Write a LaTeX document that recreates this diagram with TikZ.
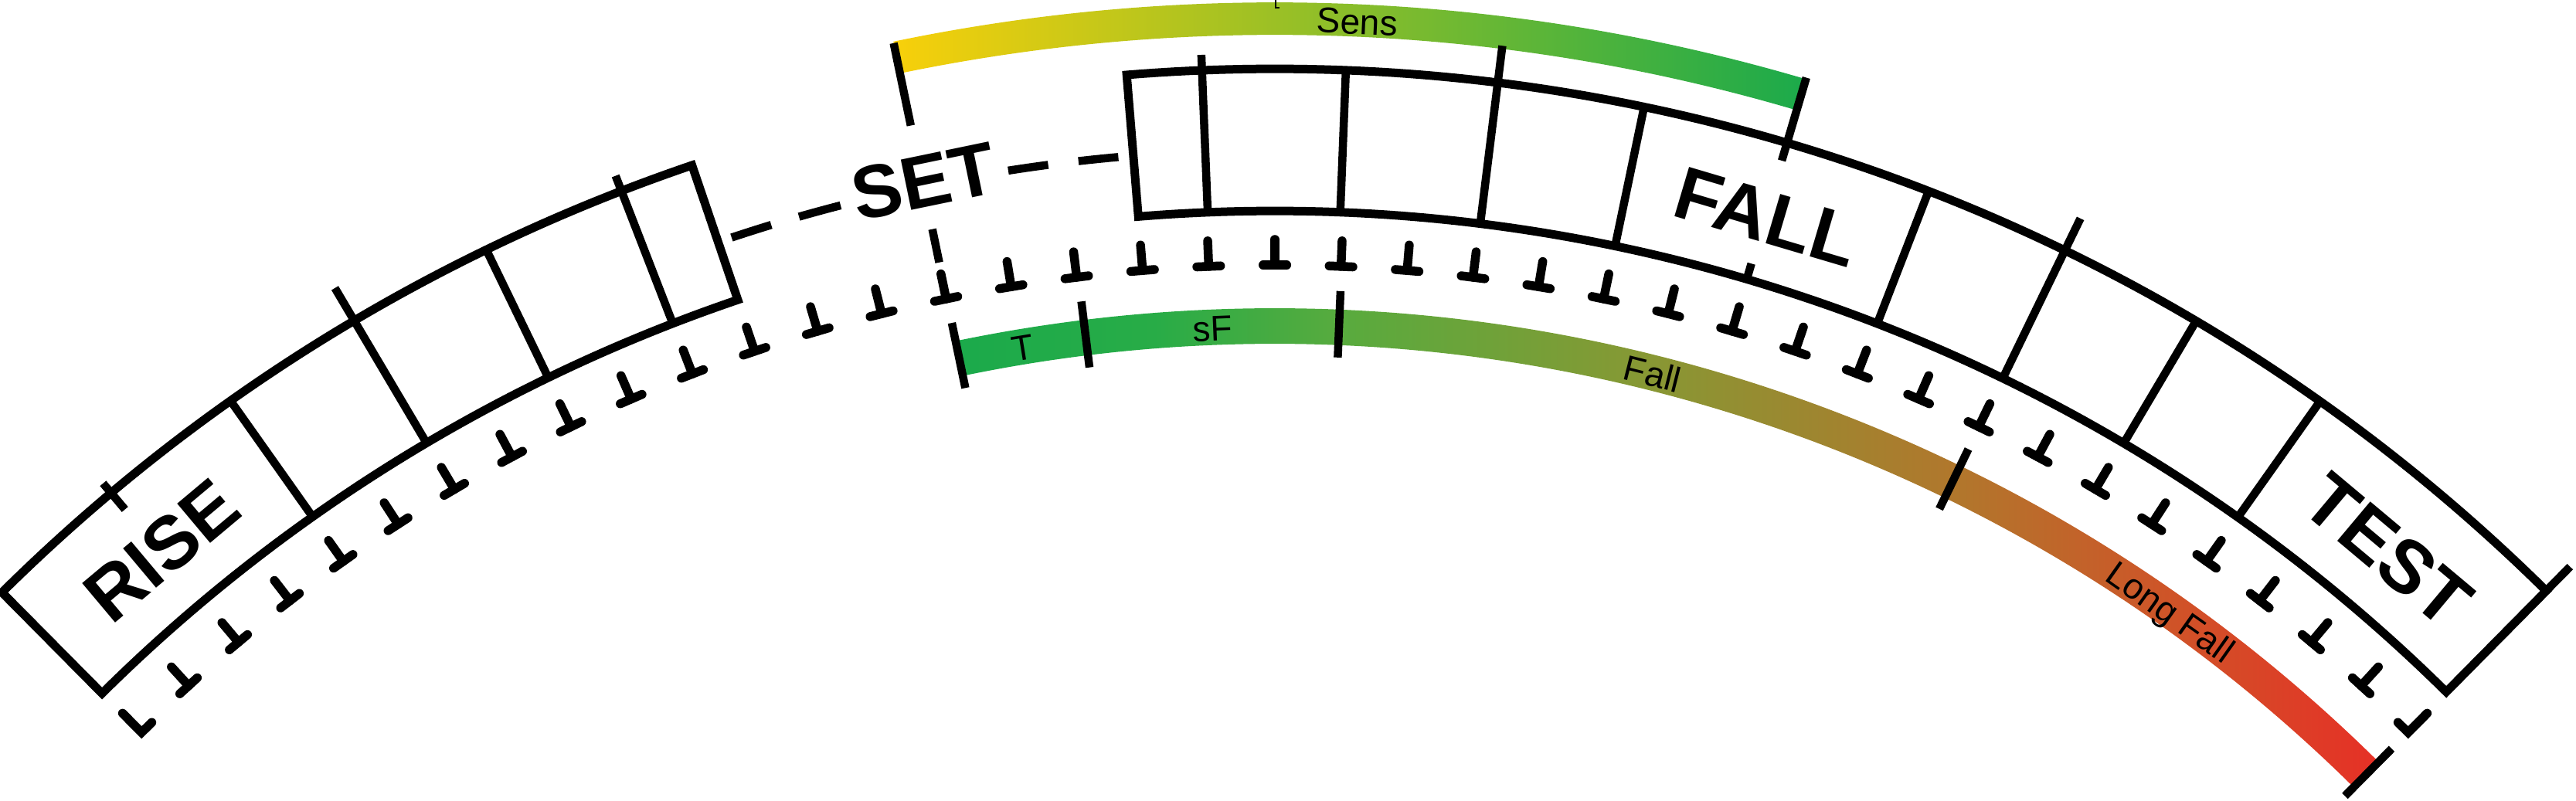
\documentclass[tikz,border=0pt]{standalone}
\usepackage{fontspec}
\setmainfont{Liberation Sans}
\usetikzlibrary{calc}
\definecolor{sensyellow}{RGB}{248,208,10}
\definecolor{barGreen}{RGB}{27,170,75}
\definecolor{barB}{RGB}{40,172,71}
\definecolor{barC}{RGB}{88,171,62}
\definecolor{barD}{RGB}{135,152,52}
\definecolor{barE}{RGB}{178,118,44}
\definecolor{barF}{RGB}{208,82,40}
\definecolor{barRed}{RGB}{230,48,38}
\pgfdeclarehorizontalshading{fallshade}{100bp}{%
  color(0bp)=(barGreen); color(25bp)=(barGreen); color(32bp)=(barB);
  color(38.5bp)=(barC); color(49.2bp)=(barD); color(60.4bp)=(barE);
  color(68bp)=(barF); color(75bp)=(barRed); color(100bp)=(barRed)}
\begin{document}
\begin{tikzpicture}[
  line/.style={line width=0.105cm},
  box/.style={line width=0.11cm, line join=miter},
  bartick/.style={line width=0.105cm},
  tmark/.style={line width=0.115cm, line cap=round, line join=miter},
  biglabel/.style={font=\fontsize{27.5pt}{29pt}\selectfont\bfseries, inner sep=0pt, text height=19.7pt, text depth=0pt},
  smalllabel/.style={font=\fontsize{13.1pt}{14pt}\selectfont, inner sep=0pt, text height=9.4pt, text depth=0pt},
]
\useasboundingbox (0,0) rectangle (33.34,10.36);
\begin{scope}[shift={(16.5,-13.94)}]
\def\Ro{23.41}
\def\Ri{21.57}
% ---- Sens bar (gradient)
\begin{scope}
\clip (101.74:24.27) arc[start angle=101.74, end angle=73.55, radius=24.27]
  -- (73.55:23.85) arc[start angle=73.55, end angle=101.74, radius=23.85] -- cycle;
\shade[left color=sensyellow, right color=barGreen] (-4.94,22.7) rectangle (6.87,24.4);
\end{scope}
% ---- lower bar (gradient)
\begin{scope}
\clip (101.74:20.31) arc[start angle=101.74, end angle=45.3, radius=20.31]
  -- (45.3:19.85) arc[start angle=45.3, end angle=101.74, radius=19.85] -- cycle;
\shade[shading=fallshade] (-4.133,13.8) rectangle (14.286,20.5);
\end{scope}
% ---- main band boxes
\draw[box] (134.73:\Ro) arc[start angle=134.73, end angle=108.8, radius=\Ro]
  -- (108.8:\Ri) arc[start angle=108.8, end angle=134.73, radius=\Ri] -- cycle;
\draw[box] (94.7:\Ro) arc[start angle=94.7, end angle=45.34, radius=\Ro]
  -- (45.34:\Ri) arc[start angle=45.34, end angle=94.7, radius=\Ri] -- cycle;
% dividers (angle / outer end radius)
\foreach \a/\r in {125.27/23.41, 120.6/23.90, 115.85/23.41, 111.18/23.62,
                   92.31/23.61, 87.75/23.41, 82.92/23.89, 78.22/23.41,
                   68.81/23.41, 64.1/23.87, 59.38/23.41, 54.7/23.41}
  \draw[line] (\a:\Ri) -- (\a:\r);
\draw[line] (45.34:\Ro) -- (45.34:23.85);
\draw[line] (130.05:23.13) -- (130.05:23.57);
% ---- SET dashes
\foreach \a/\b in {108.33/106.95, 105.99/104.56, 98.88/97.54, 96.53/95.2}
  \draw[line] (\a:22.36) arc[start angle=\a, end angle=\b, radius=22.36];
% ---- Sens end lines
\draw[bartick] (101.74:24.25) -- (101.74:23.16);
\draw[bartick] (101.74:21.79) -- (101.74:21.35);
\draw[bartick] (73.55:24.29) -- (73.55:23.17);
\draw[bartick] (73.55:21.78) -- (73.55:\Ri);
% ---- lower bar ticks
\foreach \a in {101.74, 97.0, 87.63, 64.1, 45.3}
  \draw[bartick] (\a:20.55) -- (\a:19.69);
% ---- T marks
\foreach \k in {-18,...,18} {
  \pgfmathsetmacro\am{90+\k*2.353}
  \pgfmathsetmacro\al{\am-0.42}
  \pgfmathsetmacro\ar{\am+0.42}
  \draw[tmark] (\am:21.20) -- (\am:20.87);
  \draw[tmark] (\al:20.87) -- (\ar:20.87);
}
\draw[tmark] (134.71:21.20) -- (134.71:20.85) -- (134.20:20.85);
\draw[tmark] (45.29:21.20) -- (45.29:20.85) -- (45.80:20.85);
% tiny mark on Sens bar
\draw[line width=0.015cm] (0.01,24.30) -- (0.01,24.20) -- (0.06,24.20);
% ---- labels
\node[biglabel, rotate=40] (rise) at (130.0:22.43) {RISE};
\node[biglabel, rotate=11.7] (set) at (101.7:22.43) {SET};
\node[biglabel, rotate=-16.5] (fall) at (73.5:22.43) {FALL};
\node[biglabel, rotate=-40] (test) at (50.0:22.43) {TEST};
\node[smalllabel, rotate=-2.54] (sens) at (87.46:24.05) {Sens};
\node[smalllabel, rotate=9.37] (t) at (99.37:20.07) {T};
\node[smalllabel, rotate=2.3] (sf) at (92.3:20.07) {sF};
\node[smalllabel, rotate=-14.1] (fallbar) at (75.9:20.07) {Fall};
\node[smalllabel, rotate=-35.3] (longfall) at (54.7:20.07) {Long Fall};
\end{scope}
\end{tikzpicture}
\end{document}
